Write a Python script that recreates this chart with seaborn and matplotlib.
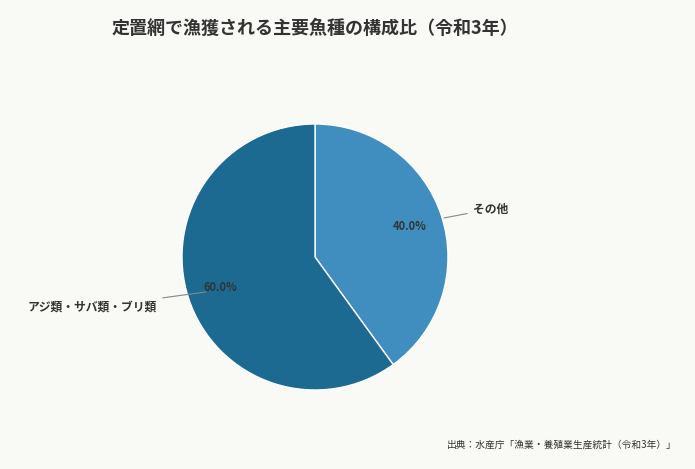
import matplotlib
matplotlib.use("Agg")
import matplotlib.pyplot as plt
import seaborn as sns
import numpy as np

sns.set_theme(style="white")
plt.rcParams['font.family'] = ['Noto Sans CJK JP', 'DejaVu Sans']

categories = ["その他", "アジ類・サバ類・ブリ類"]
values = [40.0, 60.0]
colors = ["#408ec0", "#1c6a91"]
bg = "#f9f9f5"

fig = plt.figure(figsize=(6.95, 4.69), dpi=100, facecolor=bg)
ax = fig.add_axes([(315-133)/695, (212-133)/469, 266/695, 266/469])
ax.set_facecolor(bg)
wedges, texts, autotexts = ax.pie(values, colors=colors, startangle=90, counterclock=False,
                                  autopct="%.1f%%", pctdistance=0.75,
                                  textprops=dict(fontsize=8, color="#333333", fontweight="bold"))
ax.set_xlim(-1, 1); ax.set_ylim(-1, 1)
ax.set_aspect("equal")

# leader lines and labels
ax.annotate(categories[0], xy=(0.95, 0.29), xytext=(1.19, 0.36),
            fontsize=8.5, fontweight="bold", color="#333333", ha="left", va="center",
            arrowprops=dict(arrowstyle="-", color="#888888", lw=0.8), annotation_clip=False)
ax.annotate(categories[1], xy=(-0.8, -0.26), xytext=(-1.19, -0.38),
            fontsize=8.5, fontweight="bold", color="#333333", ha="right", va="center",
            arrowprops=dict(arrowstyle="-", color="#888888", lw=0.8), annotation_clip=False)

fig.text(315/695, 1-28/469, "定置網で漁獲される主要魚種の構成比（令和3年）", ha="center", va="center",
         fontsize=13, fontweight="bold", color="#333333")
fig.text(677/695, 1-445/469, "出典：水産庁「漁業・養殖業生産統計（令和3年）」", ha="right", va="center",
         fontsize=7, color="#333333")

fig.savefig("out.png", dpi=100, facecolor=bg)
